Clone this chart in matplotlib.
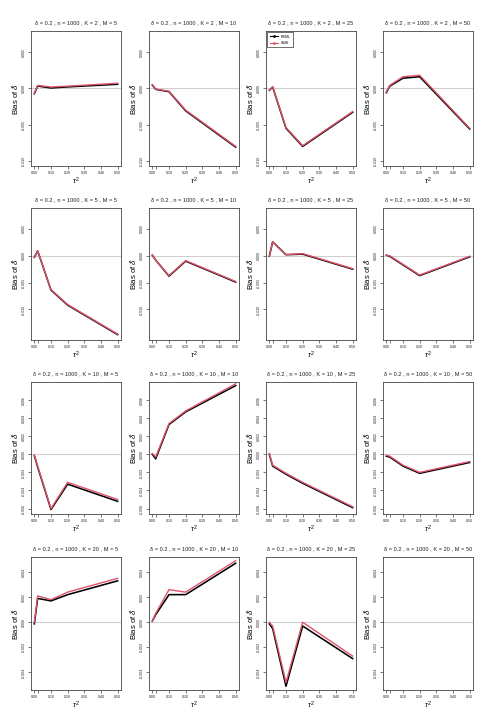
import matplotlib
matplotlib.use("Agg")
import matplotlib.pyplot as plt
from matplotlib.lines import Line2D
from matplotlib.ticker import FormatStrFormatter

plt.rcParams['font.family'] = ['Liberation Sans', 'DejaVu Sans']
plt.rcParams['mathtext.fontset'] = 'custom'
plt.rcParams['mathtext.rm'] = 'Liberation Sans'
plt.rcParams['mathtext.it'] = 'Liberation Sans:italic'

# ---------------- data ----------------
tau2 = [0.0, 0.02, 0.1, 0.2, 0.5]
K_values = [2, 5, 10, 20]
M_values = [5, 10, 25, 50]

x_ticks = [0.0, 0.1, 0.2, 0.3, 0.4, 0.5]
x_tick_labels = ["0.00", "0.10", "0.20", "0.30", "0.40", "0.50"]

row_yticks = [
    [-0.010, -0.005, 0.000, 0.005],
    [-0.010, -0.005, 0.000, 0.005],
    [-0.006, -0.004, -0.002, 0.000, 0.002, 0.004, 0.006],
    [-0.004, -0.002, 0.000, 0.002, 0.004],
]

# K = 2
reml_K2_M5 = [-0.00074, 0.00032, 0.00005, 0.00020, 0.00056]
ssw_K2_M5 = [-0.00070, 0.00040, 0.00018, 0.00030, 0.00070]
reml_K2_M10 = [0.00046, -0.00014, -0.00046, -0.0031, -0.0081]
ssw_K2_M10 = [0.00050, -0.00010, -0.00040, -0.0030, -0.0080]
reml_K2_M25 = [-0.00028, 0.00018, -0.0055, -0.0080, -0.0033]
ssw_K2_M25 = [-0.00025, 0.00020, -0.0054, -0.0079, -0.0032]
reml_K2_M50 = [-0.0006, 0.0003, 0.0014, 0.0016, -0.0056]
ssw_K2_M50 = [-0.0005, 0.0004, 0.0016, 0.0018, -0.0055]

# K = 5
reml_K5_M5 = [-0.0003, 0.0009, -0.0064, -0.0092, -0.0147]
ssw_K5_M5 = [-0.0003, 0.0009, -0.0063, -0.0091, -0.0146]
reml_K5_M10 = [0.0001, -0.0008, -0.0038, -0.0010, -0.0049]
ssw_K5_M10 = [0.0001, -0.0008, -0.0037, -0.0009, -0.0048]
reml_K5_M25 = [-0.0001, 0.0026, 0.0002, 0.0003, -0.0025]
ssw_K5_M25 = [-0.0001, 0.0026, 0.0002, 0.0004, -0.0024]
reml_K5_M50 = [0.0001, -0.0001, -0.0017, -0.0037, -0.0002]
ssw_K5_M50 = [0.0001, 0.0000, -0.0016, -0.0036, -0.0001]

# K = 10
reml_K10_M5 = [-0.00015, -0.0014, -0.0061, -0.0033, -0.0052]
ssw_K10_M5 = [-0.00010, -0.0013, -0.0060, -0.0031, -0.0050]
reml_K10_M10 = [0.0000, -0.0005, 0.0033, 0.0047, 0.0076]
ssw_K10_M10 = [0.0001, -0.0003, 0.0034, 0.0048, 0.0078]
reml_K10_M25 = [0.0000, -0.0013, -0.0022, -0.0032, -0.0059]
ssw_K10_M25 = [0.0001, -0.0012, -0.0021, -0.0031, -0.0058]
reml_K10_M50 = [-0.0002, -0.0003, -0.0013, -0.0021, -0.0009]
ssw_K10_M50 = [-0.0001, -0.0002, -0.0012, -0.0020, -0.0008]

# K = 20
reml_K20_M5 = [-0.00013, 0.0019, 0.0017, 0.0022, 0.0033]
ssw_K20_M5 = [0.0000, 0.0021, 0.0018, 0.0024, 0.0035]
reml_K20_M10 = [0.0001, 0.0006, 0.0022, 0.0022, 0.0047]
ssw_K20_M10 = [0.0001, 0.0007, 0.0026, 0.0024, 0.0049]
reml_K20_M25 = [-0.00013, -0.0005, -0.0051, -0.0003, -0.0029]
ssw_K20_M25 = [0.0000, -0.0003, -0.0048, 0.0000, -0.0027]
reml_K20_M50 = []
ssw_K20_M50 = []

reml_grid = [
    [reml_K2_M5, reml_K2_M10, reml_K2_M25, reml_K2_M50],
    [reml_K5_M5, reml_K5_M10, reml_K5_M25, reml_K5_M50],
    [reml_K10_M5, reml_K10_M10, reml_K10_M25, reml_K10_M50],
    [reml_K20_M5, reml_K20_M10, reml_K20_M25, reml_K20_M50],
]
ssw_grid = [
    [ssw_K2_M5, ssw_K2_M10, ssw_K2_M25, ssw_K2_M50],
    [ssw_K5_M5, ssw_K5_M10, ssw_K5_M25, ssw_K5_M50],
    [ssw_K10_M5, ssw_K10_M10, ssw_K10_M25, ssw_K10_M50],
    [ssw_K20_M5, ssw_K20_M10, ssw_K20_M25, ssw_K20_M50],
]

# ---------------- layout ----------------
W, H = 495, 726
fig = plt.figure(figsize=(W / 100, H / 100), dpi=100)
fig.patch.set_facecolor('white')

lefts = [31, 149, 266, 383]
pw = 90
tops = [31, 208, 382, 557]
bottoms = [166, 340, 514, 690]
row_ylims = [(-0.0107, 0.0079), (-0.0157, 0.0089), (-0.0066, 0.0080), (-0.0054, 0.0052)]

RED = '#DF536B'
frame_col = '#444444'

for r in range(4):
    for c in range(4):
        l = lefts[c]
        t, b = tops[r], bottoms[r]
        ax = fig.add_axes([l / W, 1 - b / H, pw / W, (b - t) / H])
        ax.axhline(0, color='#CFCFCF', lw=0.8, zorder=1)
        if reml_grid[r][c]:
            ax.plot(tau2, reml_grid[r][c], color='black', lw=1.15, zorder=2)
            ax.plot(tau2, ssw_grid[r][c], color=RED, lw=1.0, zorder=3)
        ax.set_xlim(-0.02, 0.52)
        ax.set_ylim(*row_ylims[r])
        ax.set_xticks(x_ticks + [0.02])
        ax.set_xticklabels(x_tick_labels + [""])
        ax.set_yticks(row_yticks[r])
        ax.yaxis.set_major_formatter(FormatStrFormatter('%.3f'))
        ax.tick_params(axis='both', direction='out', length=2, width=0.5,
                       labelsize=2.6, pad=1.5, color=frame_col, labelcolor='#222222')
        for lab in ax.get_yticklabels():
            lab.set_rotation(90)
            lab.set_va('center')
        for sp in ax.spines.values():
            sp.set_linewidth(0.6)
            sp.set_color(frame_col)
        ax.set_title(f"δ = 0.2 , n = 1000 , K = {K_values[r]} , M = {M_values[c]}",
                     fontsize=4.1, pad=5, color='#222222')
        ax.set_xlabel(r"$\tau^2$", fontsize=5.5, labelpad=0.5)
        ax.set_ylabel(r"Bias of $\hat{\delta}$", fontsize=5.6)
        ax.yaxis.set_label_coords(-0.11, 0.5)
        if r == 0 and c == 2:
            handles = [Line2D([], [], color='black', lw=0.8, marker='.', ms=2),
                       Line2D([], [], color=RED, lw=0.8, marker='.', ms=2)]
            leg = ax.legend(handles, ["REML", "SSW"], loc='upper left', fontsize=2.6,
                            handlelength=2.2, frameon=True, fancybox=False,
                            borderaxespad=0.4, borderpad=0.6, labelspacing=0.6,
                            handletextpad=0.8)
            leg.get_frame().set_edgecolor('black')
            leg.get_frame().set_linewidth(0.5)

fig.savefig("out.png", dpi=100, facecolor='white')
